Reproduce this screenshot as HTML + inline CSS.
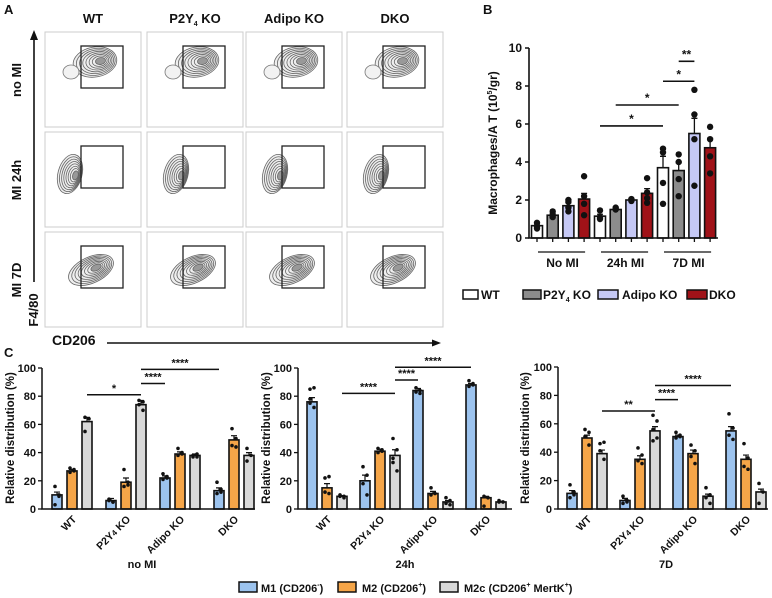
<!DOCTYPE html>
<html><head><meta charset="utf-8"><style>
html,body{margin:0;padding:0;background:#fff;}
svg{display:block;font-family:"Liberation Sans",sans-serif;}
text{font-weight:bold;fill:#111;}
</style></head><body>
<svg id="fig" width="772" height="598" viewBox="0 0 772 598" xmlns="http://www.w3.org/2000/svg">
<text x="4" y="14" font-size="13">A</text>
<text x="483" y="14" font-size="13">B</text>
<text x="4" y="357" font-size="13">C</text>
<g id="pa"></g>
<g id="pb"></g>
<g id="pc"></g>
<g id="legc">
<rect x="239" y="582" width="18" height="10" fill="#9cc3ee" stroke="#111" stroke-width="1.5"/>
<text x="261" y="592" font-size="11">M1 (CD206<tspan font-size="7" dy="-5">-</tspan><tspan dy="5">)</tspan></text>
<rect x="338" y="582" width="18" height="10" fill="#f5a548" stroke="#111" stroke-width="1.5"/>
<text x="362" y="592" font-size="11">M2 (CD206<tspan font-size="7" dy="-5">+</tspan><tspan dy="5">)</tspan></text>
<rect x="440" y="582" width="18" height="10" fill="#d9d9d9" stroke="#111" stroke-width="1.5"/>
<text x="464" y="592" font-size="11">M2c (CD206<tspan font-size="7" dy="-5">+</tspan><tspan dy="5"> MertK</tspan><tspan font-size="7" dy="-5">+</tspan><tspan dy="5">)</tspan></text>
</g>
<g id="legb">
<rect x="463" y="290" width="15" height="9" fill="#fff" stroke="#111" stroke-width="1.5"/>
<text x="481" y="299" font-size="12">WT</text>
<rect x="523" y="290" width="18" height="9" fill="#8c8c8c" stroke="#111" stroke-width="1.5"/>
<text x="543" y="299" font-size="12">P2Y<tspan font-size="7" dy="3">4</tspan><tspan dy="-3"> KO</tspan></text>
<rect x="598" y="290" width="20" height="9" fill="#c5c8f5" stroke="#111" stroke-width="1.5"/>
<text x="622" y="299" font-size="12">Adipo KO</text>
<rect x="687" y="290" width="20" height="9" fill="#a01218" stroke="#111" stroke-width="1.5"/>
<text x="709" y="299" font-size="12">DKO</text>
</g>
</svg>
<script>
// ===== Panel B data =====
const bGroups = ["No MI","24h MI","7D MI"];
const bGenotypes = ["WT","P2Y4 KO","Adipo KO","DKO"];
const bMeansNoMI = [0.65,1.2,1.7,2.05];
const bMeans24h = [1.15,1.5,2.0,2.35];
const bMeans7D = [3.7,3.55,5.5,4.75];
const bErrNoMI = [0.08,0.1,0.15,0.3];
const bErr24h = [0.1,0.05,0.05,0.25];
const bErr7D = [0.6,0.4,0.8,0.5];
const bDotsNoMI = [[0.8,0.6,0.5],[1.4,1.2,1.1],[2.0,1.9,1.6,1.4],[3.25,2.2,1.8,1.2]];
const bDots24h = [[1.45,1.1,1.0],[1.6,1.5],[2.05,1.95],[3.15,2.4,2.1,1.85]];
const bDots7D = [[4.7,4.5,2.9,1.8],[4.4,4.0,3.1,2.2],[7.8,6.5,5.2,2.75],[5.85,5.2,4.3,3.4]];
const bTicks = [0,2,4,6,8,10];
// ===== Panel C data =====
const cCategories = ["WT","P2Y4 KO","Adipo KO","DKO"];
const cTicks = [0,20,40,60,80,100];
const noMI_M1 = [10,6,22,13], noMI_M2 = [27,19,39,49], noMI_M2c = [62,74,38,38];
const h24_M1 = [76,20,84,88], h24_M2 = [15,41,11,8], h24_M2c = [9,38,5,5];
const d7_M1 = [11,6,51,55], d7_M2 = [50,35,39,35], d7_M2c = [39,55,9,12];
const noMI_Err = [[2,1.5,1.5,2],[1,3,1.5,3],[3,3,1,2]];
const h24_Err = [[3,4,1.5,1],[3,1.5,1.5,1],[0.5,4,1,0.5]];
const d7_Err = [[2,1.5,1,3],[2,2.5,2.5,3],[2.5,3,1.5,2]];
const noMI_Dots = [[[16,10,3,9],[7,5,6,5],[25,22,21,23],[19,12,11,14]],[[29,27,26,28],[28,17,16,19],[43,39,38,40],[57,50,45,44]],[[65,64,55],[77,76,74,70],[38,39,37,37],[43,38,34]]];
const h24_Dots = [[[85,86,78,72,75],[30,24,18,10],[86,84,83,82],[91,88,87,89]],[[22,23,12,11],[43,41,40,42],[15,11,10],[9,8,2]],[[9,9,10,8],[50,42,33,27,36],[8,6,4,3],[6,5,5]]];
const d7_Dots = [[[17,12,8,10],[9,6,4,5],[54,51,50,52],[67,57,52,49]],[[56,54,51,45],[43,38,34,32],[45,41,37,32],[46,36,30,28]],[[46,47,41,35],[66,62,56,50,48],[15,10,8,4],[18,12,4]]];
const noMI_Sig = [["*",0,2,1,2,81],["****",1,2,2,0,89],["****",1,2,3,0,99]];
const h24_Sig = [["****",0,2,1,2,82],["****",1,2,2,0,91.5],["****",1,2,3,0,100.5]];
const d7_Sig = [["**",0,2,1,2,69],["****",1,2,2,0,77],["****",1,2,3,0,87]];

const NS="http://www.w3.org/2000/svg";
function mk(parent,tag,attrs,txt){const e=document.createElementNS(NS,tag);for(const k in attrs)e.setAttribute(k,attrs[k]);if(txt!==undefined)e.textContent=txt;parent.appendChild(e);return e;}

// ===== Panel A =====
const pa=document.getElementById('pa');
const colX=[45,147,246,347], rowY=[32,132,232];
const colNames=["WT","P2Y4 KO","Adipo KO","DKO"], rowNames=["no MI","MI 24h","MI 7D"];
colNames.forEach((n,i)=>{
  const t=mk(pa,'text',{x:colX[i]+48,y:23,'font-size':13,'text-anchor':'middle'});
  
  
  if(n==="P2Y4 KO"){t.innerHTML='P2Y<tspan font-size="7" dy="3">4</tspan><tspan dy="-3"> KO</tspan>';}else t.textContent=n;
});
rowNames.forEach((n,j)=>{
  const t=mk(pa,'text',{x:0,y:0,'font-size':13,'text-anchor':'middle',transform:`translate(21,${rowY[j]+48}) rotate(-90)`},n);
  
  
});
for(let j=0;j<3;j++)for(let i=0;i<4;i++){
  const x=colX[i],y=rowY[j];
  const fr=mk(pa,'rect',{x:x,y:y,width:96,height:95,fill:'#fff',stroke:'#ccc','stroke-width':1});
  
  
  let cx,cy,rx,ry,rot;
  if(j===0){cx=x+50;cy=y+30;rx=22;ry=15;rot=-10;}
  else if(j===1){cx=x+25+(i===0?0:4);cy=y+42;rx=12;ry=20;rot=15;}
  else{cx=x+46;cy=y+38;rx=24;ry=13;rot=-25;}
  for(let k=0;k<8;k++){
    const s=1-k*0.11;
    const el=mk(pa,'ellipse',{cx:cx+k*0.8,cy:cy,rx:rx*s,ry:ry*s,fill:k===0?'#eee':(k===7?'#999':'none'),stroke:'#666','stroke-width':0.8,transform:`rotate(${rot} ${cx} ${cy})`});
    
    
  }
  if(j===0){const el=mk(pa,'ellipse',{cx:x+26,cy:y+40,rx:8,ry:7,fill:'#f2f2f2',stroke:'#777','stroke-width':0.8});}
  const g=mk(pa,'rect',{x:x+36,y:y+14,width:42,height:42,fill:'none',stroke:'#222','stroke-width':1.3});
  
  
}
const va=mk(pa,'path',{d:'M34,282 L34,38',stroke:'#111','stroke-width':1.6,fill:'none'});


const vh=mk(pa,'path',{d:'M30,40 L34,30 L38,40 Z',fill:'#111'});


const f480=mk(pa,'text',{x:0,y:0,'font-size':13,'text-anchor':'middle',transform:'translate(38,310) rotate(-90)'},'F4/80');


const cd=mk(pa,'text',{x:52,y:345,'font-size':14},'CD206');


const ha=mk(pa,'path',{d:'M107,343 L432,343',stroke:'#111','stroke-width':1.4});


const hh=mk(pa,'path',{d:'M432,339.5 L441,343 L432,346.5 Z',fill:'#111'});



// ===== Panel B =====
const pb=document.getElementById('pb');
const bAx=529,bY0=238,bY10=48;
const by=v=>bY0+(bY10-bY0)*v/10;
const bx=(g,i)=>537+g*63+i*15.7;
const bColors=['#fff','#8c8c8c','#c5c8f5','#a01218'];
const bMeans=[bMeansNoMI,bMeans24h,bMeans7D], bErr=[bErrNoMI,bErr24h,bErr7D], bDots=[bDotsNoMI,bDots24h,bDots7D];
bTicks.forEach(t=>{
  const l=mk(pb,'line',{x1:bAx-4,x2:bAx,y1:by(t),y2:by(t),stroke:'#111','stroke-width':1.5});
  
  
  const tx=mk(pb,'text',{x:bAx-7,y:by(t)+4,'font-size':12,'text-anchor':'end'},String(t));
  
  
});
bGroups.forEach((gname,g)=>{
  bGenotypes.forEach((gen,i)=>{
    const cx=bx(g,i),v=bMeans[g][i];
    const r=mk(pb,'rect',{x:cx-5.5,y:by(v),width:11,height:bY0-by(v),fill:bColors[i],stroke:'#111','stroke-width':1.6});
    
    
    const e=mk(pb,'path',{d:`M${cx},${by(v)} L${cx},${by(v+bErr[g][i])} M${cx-3},${by(v+bErr[g][i])} L${cx+3},${by(v+bErr[g][i])}`,stroke:'#111','stroke-width':1.3});
    
    
    const tk=mk(pb,'line',{x1:cx,x2:cx,y1:bY0,y2:bY0+4,stroke:'#111','stroke-width':1.3});
    
    
    bDots[g][i].forEach(d=>{
      const c=mk(pb,'circle',{cx:cx,cy:by(d),r:3.2,fill:'#111'});
      
      
    });
  });
  const ul=mk(pb,'line',{x1:bx(g,0)+1,x2:bx(g,3)+1,y1:252,y2:252,stroke:'#111','stroke-width':1.3});
  
  
  const gl=mk(pb,'text',{x:(bx(g,0)+bx(g,3))/2+2,y:267,'font-size':12,'text-anchor':'middle'},gname);
  
  
});
const bax=mk(pb,'path',{d:`M${bAx},${bY10} L${bAx},${bY0} L718,${bY0}`,stroke:'#111','stroke-width':1.6,fill:'none'});


const byl=mk(pb,'text',{x:0,y:0,'font-size':12,'text-anchor':'middle',transform:'translate(497,143) rotate(-90)'});
byl.innerHTML='Macrophages/A T (10<tspan font-size="7" dy="-5">5</tspan><tspan dy="5">/gr)</tspan>';


const bSig=[["*",1,0,2,0,5.9],["*",1,1,2,1,7.0],["*",2,0,2,2,8.25],["**",2,1,2,2,9.3]];
bSig.forEach(s=>{
  const x1=bx(s[1],s[2]),x2=bx(s[3],s[4]),yy=by(s[5]);
  const l=mk(pb,'line',{x1:x1,x2:x2,y1:yy,y2:yy,stroke:'#111','stroke-width':1.6});
  
  
  const t=mk(pb,'text',{x:(x1+x2)/2,y:yy-3,'font-size':12,'text-anchor':'middle'},s[0]);
  
  
});

// ===== Panel C =====
const pc=document.getElementById('pc');
const cColors=['#9cc3ee','#f5a548','#d9d9d9'];
const cPanels=[
 {ax:42,y0:509,y100:368,cx0:72,step:54,right:255,ylx:14,title:'no MI',tx:142,vals:[noMI_M1,noMI_M2,noMI_M2c],err:noMI_Err,dots:noMI_Dots,sig:noMI_Sig},
 {ax:298,y0:509,y100:368,cx0:327,step:53,right:512,ylx:270,title:'24h',tx:405,vals:[h24_M1,h24_M2,h24_M2c],err:h24_Err,dots:h24_Dots,sig:h24_Sig},
 {ax:558,y0:509,y100:367,cx0:587,step:53,right:768,ylx:529,title:'7D',tx:666,vals:[d7_M1,d7_M2,d7_M2c],err:d7_Err,dots:d7_Dots,sig:d7_Sig}
];
cPanels.forEach(P=>{
  const y=v=>P.y0+(P.y100-P.y0)*v/100;
  const x=(g,s)=>P.cx0+g*P.step+(s-1)*15;
  cTicks.forEach(t=>{
    const l=mk(pc,'line',{x1:P.ax-4,x2:P.ax,y1:y(t),y2:y(t),stroke:'#111','stroke-width':1.3});
    
    
    const tx=mk(pc,'text',{x:P.ax-6,y:y(t)+4,'font-size':11,'text-anchor':'end'},String(t));
    
    
  });
  cCategories.forEach((cat,g)=>{
    for(let s=0;s<3;s++){
      const v=P.vals[s][g],cx=x(g,s);
      const r=mk(pc,'rect',{x:cx-5,y:y(v),width:10,height:P.y0-y(v),fill:cColors[s],stroke:'#111','stroke-width':1.6});
      
      
      const ev=v+P.err[s][g];
      const e=mk(pc,'path',{d:`M${cx},${y(v)} L${cx},${y(ev)} M${cx-3},${y(ev)} L${cx+3},${y(ev)}`,stroke:'#111','stroke-width':1.2});
      
      
      P.dots[s][g].forEach((d,k)=>{
        const c=mk(pc,'circle',{cx:cx+((k%2)?2:-2),cy:y(d),r:1.8,fill:'#111'});
        
        
      });
    }
    const cx=x(g,1);
    const lab=mk(pc,'text',{x:0,y:0,'font-size':10.5,'text-anchor':'end',transform:`translate(${cx+5},${P.y0+11}) rotate(-45)`});
    if(cat==="P2Y4 KO")lab.innerHTML='P2Y<tspan font-size="8">4</tspan> KO';else lab.textContent=cat;
    
    
  });
  const ax=mk(pc,'path',{d:`M${P.ax},${P.y100} L${P.ax},${P.y0} L${P.right},${P.y0}`,stroke:'#111','stroke-width':1.5,fill:'none'});
  
  
  const yl=mk(pc,'text',{x:0,y:0,'font-size':11.5,'font-weight':'normal','text-anchor':'middle',transform:`translate(${P.ylx},438) rotate(-90)`},'Relative distribution (%)');
  
  
  const tt=mk(pc,'text',{x:P.tx,y:568,'font-size':11,'text-anchor':'middle'},P.title);
  
  
  P.sig.forEach(s=>{
    const x1=x(s[1],s[2]),x2=x(s[3],s[4]),yy=y(s[5]);
    const l=mk(pc,'line',{x1:x1,x2:x2,y1:yy,y2:yy,stroke:'#111','stroke-width':1.5});
    
    
    const t=mk(pc,'text',{x:(x1+x2)/2,y:yy-3,'font-size':11,'text-anchor':'middle'},s[0]);
    
    
  });
});
</script>
</body></html>
